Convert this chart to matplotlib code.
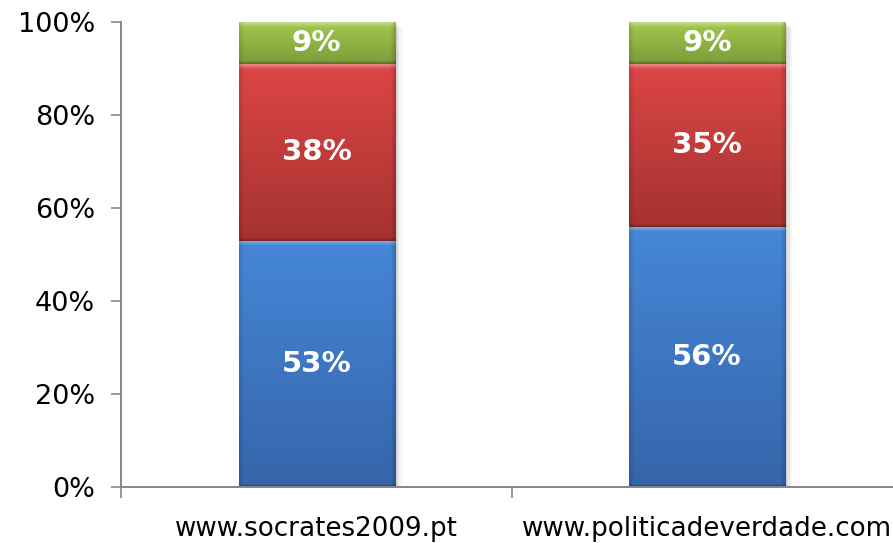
import numpy as np
import matplotlib
matplotlib.use('Agg')
import matplotlib.pyplot as plt
from matplotlib.colors import to_rgb
from matplotlib.patches import Rectangle

categories = ['www.socrates2009.pt', 'www.politicadeverdade.com']
blue_vals = [53, 56]
red_vals = [38, 35]
green_vals = [9, 9]
yticks = [0, 20, 40, 60, 80, 100]
ytick_labels = ['0%', '20%', '40%', '60%', '80%', '100%']

# (top colour, bottom colour) for each stacked series
series = [
    (blue_vals, '#4687d8', '#3565aa'),
    (red_vals, '#dc4646', '#a53230'),
    (green_vals, '#a3c94f', '#7c9b39'),
]

W, H = 893, 543
fig = plt.figure(figsize=(W / 100, H / 100), dpi=100)
ax_left, ax_right = 121.5, 902
ax_top, ax_bot = 22, 487
ax = fig.add_axes([ax_left / W, (H - ax_bot) / H,
                   (ax_right - ax_left) / W, (ax_bot - ax_top) / H])

x = np.arange(len(categories))
bar_w = 0.4
px_per_unit_y = (ax_bot - ax_top) / 100.0
px_per_unit_x = (ax_right - ax_left) / 2.0

bottom = np.zeros(len(categories))
for vals, ctop, cbot in series:
    vals = np.array(vals, dtype=float)
    bars = ax.bar(x, vals, bar_w, bottom=bottom, color=cbot,
                  edgecolor='none', zorder=2)
    for rect, v, b in zip(bars, vals, bottom):
        hpx = max(int(round(v * px_per_unit_y)), 2)
        wpx = max(int(round(bar_w * px_per_unit_x)), 2)
        t = np.linspace(0, 1, hpx)[:, None, None]  # 0 = top
        top_c = np.array(to_rgb(ctop))
        bot_c = np.array(to_rgb(cbot))
        img = top_c * (1 - t) + bot_c * t
        img = np.repeat(img, wpx, axis=1)
        bev = 5
        for i in range(min(bev, hpx)):
            f = 0.35 * (1 - i / bev)
            img[i, :, :] = img[i, :, :] + (1 - img[i, :, :]) * f
        for i in range(min(3, hpx)):
            f = 0.25 * (1 - i / 3)
            img[hpx - 1 - i, :, :] = img[hpx - 1 - i, :, :] * (1 - f)
        for j in range(min(bev, wpx)):
            f = 0.12 * (1 - j / bev)
            img[:, j, :] *= (1 - f)
            img[:, wpx - 1 - j, :] *= (1 - f * 1.5)
        img = np.clip(img, 0, 1)
        x0 = rect.get_x()
        ax.imshow(img, extent=(x0, x0 + bar_w, b, b + v), aspect='auto',
                  origin='upper', zorder=2.5, interpolation='bilinear',
                  clip_path=rect, clip_on=True)
        ax.text(rect.get_x() + bar_w / 2, b + v / 2, f'{int(v)}%',
                ha='center', va='center', color='white', fontsize=21,
                fontweight='bold', zorder=4)
    bottom = bottom + vals

# soft drop shadow behind the bars
for xi, tot in zip(x, bottom):
    for k, a in enumerate([0.10, 0.07, 0.04]):
        d = (k + 1) * 0.006
        ax.add_patch(Rectangle((xi - bar_w / 2 + d, -1.2 * (k + 1) / 3),
                               bar_w, tot, facecolor='black', alpha=a,
                               edgecolor='none', zorder=1.5))

ax.set_xlim(-0.5, 1.5)
ax.set_ylim(0, 100)
ax.set_yticks(yticks)
ax.set_yticklabels(ytick_labels)
ax.set_xticks([-0.5, 0.5, 1.5])
ax.set_xticklabels([])
ax.set_xticks(x, minor=True)
ax.set_xticklabels(categories, minor=True)
ax.tick_params(axis='x', which='minor', length=0, pad=21, labelsize=18.8)
ax.tick_params(axis='x', which='major', length=8, width=1.2, color='#868686')
ax.tick_params(axis='y', length=7, width=1.2, color='#868686', pad=12,
               labelsize=19.5)
for s in ['top', 'right']:
    ax.spines[s].set_visible(False)
for s in ['left', 'bottom']:
    ax.spines[s].set_color('#868686')
    ax.spines[s].set_linewidth(1.4)
ax.patch.set_alpha(0)

fig.savefig('out.png', dpi=100)
